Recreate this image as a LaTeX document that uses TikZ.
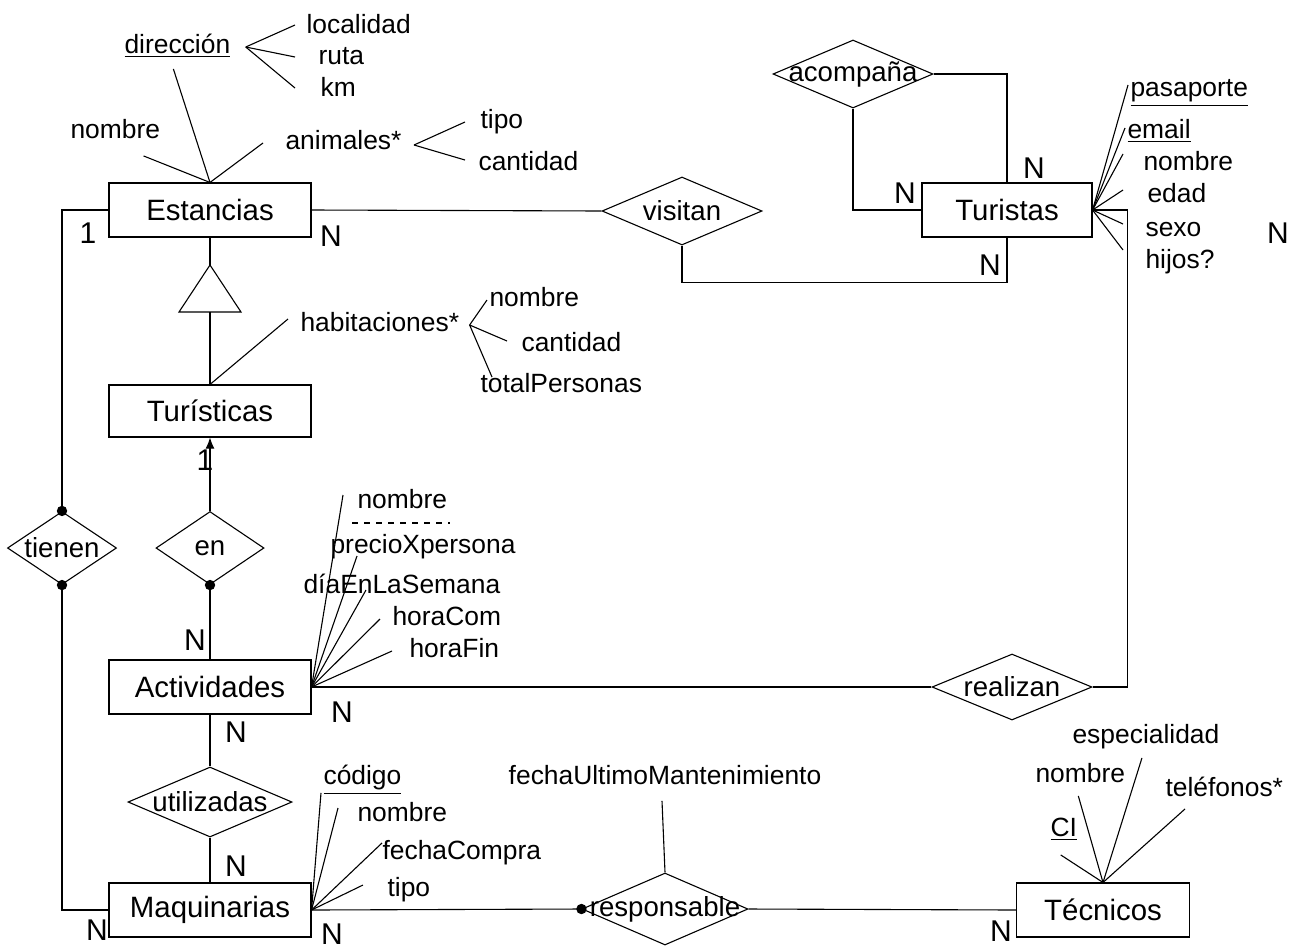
\documentclass[tikz,border=0pt]{standalone}
\usepackage{fontspec}
\setmainfont{Liberation Sans}
\usetikzlibrary{shapes,arrows,arrows.meta,calc}
\tikzstyle{line} = [draw]
\tikzstyle{arrowline} = [draw, -{Latex[length=5.5pt,width=4.5pt]}]
\tikzstyle{entity} = [draw, rectangle, text centered, minimum width=101pt, minimum height=27pt, font=\fontsize{14.7}{16}\selectfont]
\tikzstyle{rel} = [draw, diamond, inner sep=0pt, minimum width=80pt, minimum height=34pt]
\tikzstyle{attr} = [inner sep=1pt, text height=9.6pt, text depth=2.8pt, font=\fontsize{13.2}{15}\selectfont]
\tikzstyle{card} = [inner sep=1pt, font=\fontsize{15}{17}\selectfont]

\begin{document}
\begin{tikzpicture}[x=0.5pt, y=-0.5pt, line width=0.55pt,
    every label/.style={inner sep=0pt, font=\fontsize{13.8}{15}\selectfont}]
    \useasboundingbox (0,0) rectangle (1294,948);
    % entidades
    \node[entity] (est) at (210,210) {Estancias};
    \node[entity, minimum width=85pt] (tur) at (1007,210) {Turistas};
    \node[entity, minimum height=26pt] (turi) at (210,411) {Turísticas};
    \node[entity] (act) at (210,687) {Actividades};
    \node[entity] (maq) at (210,910) {Maquinarias};
    \node[entity, minimum width=86.5pt] (tec) at (1103,910) {Técnicos};
    % relaciones
    \node[rel, label=center:visitan] (vis) at (682,211) {};
    \node[rel, label=center:acompaña] (aco) at (853,74) {};
    \node[rel, minimum width=54.5pt, minimum height=36.5pt, label=center:tienen] (tie) at (62,548) {};
    \node[rel, minimum width=54pt, minimum height=36.5pt, label=center:en] (en) at (210,548) {};
    \node[rel, minimum width=82pt, minimum height=35pt, label=center:utilizadas] (uti) at (210,802) {};
    \node[rel, minimum height=33pt, label=center:realizan] (rea) at (1012,687) {};
    \node[rel, minimum width=83pt, minimum height=36pt, label=center:responsable] (res) at (665,909) {};
    % generalizacion
    \coordinate (isa) at (210,265);
    \coordinate (isab) at (210,312);
    \draw (isa) -- ++(31,47) -- ++(-62,0) -- cycle;
    \path[line] (est.south) -- (isa);
    \path[line] (isab) -- (turi.north);
    % conexiones
    \path[line] (est.east) -- (vis.west);
    \path[line] (vis.south) -- ++(0,37) -| (tur.south);
    \path[line] (aco.east) -| (tur.north);
    \path[line] (aco.south) |- (tur.west);
    \path[line] (tur.east) -- ++(35,0) |- (rea.east);
    \path[line] (est.west) -| (tie.north);
    \path[line] (tie.south) |- (maq.west);
    \path[arrowline] (en.north) -- (turi.south);
    \path[line] (en.south) -- (act.north);
    \path[line] (act.east) -- (rea.west);
    \path[line] (act.south) -- (uti.north);
    \path[line] (uti.south) -- (maq.north);
    \path[line] (maq.east) -- (res.west);
    \path[line] (res.east) -- (tec.west);
    \fill (tie.north) circle (2.6pt);
    \fill (tie.south) circle (2.6pt);
    \fill (en.south) circle (2.6pt);
    \fill (res.west) circle (2.6pt);
    % cardinalidades
    \node[card] (c1) at (88,233) {1};
    \node[card] (c2) at (331,236) {N};
    \node[card] (c3) at (1034,168) {N};
    \node[card] (c4) at (905,193) {N};
    \node[card] (c5) at (990,265) {N};
    \node[card] (c6) at (1278,233) {N};
    \node[card] (c7) at (205,460) {1};
    \node[card] (c8) at (195,640) {N};
    \node[card] (c9) at (342,712) {N};
    \node[card] (c10) at (236,732) {N};
    \node[card] (c11) at (236,866) {N};
    \node[card] (c12) at (97,930) {N};
    \node[card] (c13) at (332,934) {N};
    \node[card] (c14) at (1001,931) {N};
    % atributos Estancias
    \node[attr, anchor=west] (enom) at (68,132) {nombre};
    \node[attr, anchor=west] (edir) at (122,47) {\underline{dirección}};
    \node[attr, anchor=west] (eani) at (283,143) {animales*};
    \node[attr, anchor=west] (eloc) at (304,27) {localidad};
    \node[attr, anchor=west] (erut) at (316,58) {ruta};
    \node[attr, anchor=west] (ekm) at (318,90) {km};
    \node[attr, anchor=west] (etip) at (478,122) {tipo};
    \node[attr, anchor=west] (ecan) at (476,164) {cantidad};
    \path[line] (est.north) -- ($(enom.south east)+(-19,9)$);
    \path[line] (est.north) -- ($(edir.south)+(-4,7)$);
    \path[line] (est.north) -- ($(eani.west)+(-20,0)$);
    \coordinate (dirfan) at ($(edir.east)+(13,0)$);
    \path[line] (dirfan) -- ($(eloc.west)+(-9,-2)$);
    \path[line] (dirfan) -- ($(erut.west)+(-21,-1)$);
    \path[line] (dirfan) -- ($(ekm.west)+(-23,-2)$);
    \coordinate (anifan) at ($(eani.east)+(10,2)$);
    \path[line] (anifan) -- ($(etip.west)+(-13,0)$);
    \path[line] (anifan) -- ($(ecan.west)+(-11,-4)$);
    % atributos Turisticas
    \node[attr, anchor=west] (thab) at (298,325) {habitaciones*};
    \node[attr, anchor=west] (hnom) at (487,300) {nombre};
    \node[attr, anchor=west] (hcan) at (519,345) {cantidad};
    \node[attr, anchor=west] (htot) at (478,386) {totalPersonas};
    \path[line] (turi.north) -- ($(thab.west)+(-10,-6)$);
    \coordinate (habfan) at ($(thab.east)+(8,0)$);
    \path[line] (habfan) -- (hnom.west);
    \path[line] (habfan) -- ($(hcan.west)+(-12,-4)$);
    \path[line] (habfan) -- ($(htot.north west)+(14,6)$);
    % atributos Turistas
    \node[attr, anchor=west] (tpas) at (1128,90) {\underline{pasaporte}};
    \node[attr, anchor=west] (tema) at (1125,132) {\underline{email}};
    \node[attr, anchor=west] (turnom) at (1141,164) {nombre};
    \node[attr, anchor=west] (teda) at (1145,196) {edad};
    \node[attr, anchor=west] (tsex) at (1143,230) {sexo};
    \node[attr, anchor=west] (thij) at (1143,262) {hijos?};
    \path[line] (tur.east) -- ($(tpas.west)+(0,-5)$);
    \path[line] (tur.east) -- ($(tema.west)+(0,-4)$);
    \path[line] (tur.east) -- ($(turnom.west)+(-18,-10)$);
    \path[line] (tur.east) -- ($(teda.west)+(-22,-6)$);
    \path[line] (tur.east) -- ($(tsex.west)+(-20,-6)$);
    \path[line] (tur.east) -- ($(thij.west)+(-20,-12)$);
    % atributos Actividades
    \node[attr, anchor=west] (anom) at (355,502) {nombre};
    \node[attr, anchor=west] (apre) at (328,547) {precioXpersona};
    \node[attr, anchor=west] (adia) at (301,587) {díaEnLaSemana};
    \node[attr, anchor=west] (ahco) at (390,619) {horaCom};
    \node[attr, anchor=west] (ahfi) at (407,651) {horaFin};
    \draw[dashed] ($(anom.south west)+(-3,6)$) -- ($(anom.south east)+(0,6)$);
    \path[line] (act.east) -- ($(anom.west)+(-12,-7)$);
    \path[line] (act.east) -- ($(apre.west)+(29,9)$);
    \path[line] (act.east) -- ($(adia.west)+(65,3)$);
    \path[line] (act.east) -- ($(ahco.west)+(-10,0)$);
    \path[line] (act.east) -- ($(ahfi.west)+(-15,0)$);
    % atributos Maquinarias
    \node[attr, anchor=west] (mcod) at (321,778) {\underline{código}};
    \node[attr, anchor=west] (mnom) at (355,815) {nombre};
    \node[attr, anchor=west] (mfec) at (380,853) {fechaCompra};
    \node[attr, anchor=west] (mtip) at (385,890) {tipo};
    \path[line] (maq.east) -- (mcod.south west);
    \path[line] (maq.east) -- ($(mnom.west)+(-17,-7)$);
    \path[line] (maq.east) -- ($(mfec.west)+(2,-10)$);
    \path[line] (maq.east) -- ($(mtip.west)+(-22,-5)$);
    % atributo de responsable
    \node[attr] (rfum) at (665,778) {fechaUltimoMantenimiento};
    \path[line] ($(rfum.south)+(-3,8)$) -- (res.north);
    % atributos Tecnicos
    \node[attr, anchor=west] (tci) at (1048,830) {\underline{CI}};
    \node[attr, anchor=west] (tecnom) at (1033,776) {nombre};
    \node[attr, anchor=west] (tesp) at (1070,737) {especialidad};
    \node[attr, anchor=west] (ttel) at (1163,790) {teléfonos*};
    \path[line] (tec.north) -- ($(tci.south)+(-3,10)$);
    \path[line] (tec.north) -- ($(tecnom.south)+(-2,5)$);
    \path[line] (tec.north) -- ($(tesp.south)+(-4,6)$);
    \path[line] (tec.north) -- ($(ttel.south west)+(22,4)$);
\end{tikzpicture}
\end{document}
